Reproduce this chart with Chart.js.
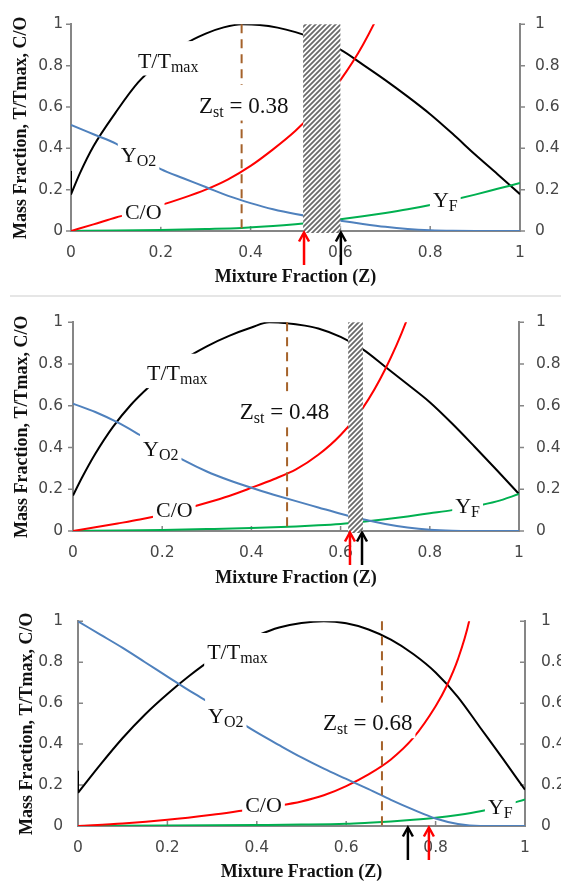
<!DOCTYPE html>
<html>
<head>
<meta charset="utf-8">
<script src="https://cdn.jsdelivr.net/npm/chart.js@4.4.1/dist/chart.umd.min.js"></script>
<style>
  html, body { margin: 0; padding: 0; background: #fff; }
  body { width: 561px; height: 885px; position: relative; overflow: hidden; }
  canvas { position: absolute; left: 0; }
  #sep { position: absolute; left: 10px; top: 295px; width: 551px; height: 2px; background: #e6e6e6; }
</style>
</head>
<body>
<canvas id="c1" width="561" height="294" style="top:0px"></canvas>
<div id="sep"></div>
<canvas id="c2" width="561" height="300" style="top:296px"></canvas>
<canvas id="c3" width="561" height="289" style="top:596px"></canvas>
<script>
// ---------- data: mixture fraction Z vs. normalised profiles ----------
const axisTicks = [0, 0.2, 0.4, 0.6, 0.8, 1];

// Case 1 (Zst = 0.38)
const zst1 = 0.38;
const zT1 = [0, 0.02, 0.05, 0.1, 0.15, 0.2, 0.25, 0.3, 0.34, 0.38, 0.42, 0.46, 0.5, 0.55, 0.6, 0.65, 0.7, 0.75, 0.8, 0.85, 0.9, 0.95, 1];
const T1  = [0.177, 0.28, 0.41, 0.575, 0.72, 0.82, 0.9, 0.955, 0.985, 1.0, 0.997, 0.984, 0.962, 0.925, 0.877, 0.805, 0.73, 0.65, 0.565, 0.47, 0.37, 0.275, 0.178];
const tEdge1 = [0.29, 0.177];
const zO1 = [0, 0.05, 0.1, 0.15, 0.2, 0.25, 0.3, 0.35, 0.4, 0.45, 0.5, 0.55, 0.6, 0.65, 0.7, 0.75, 0.8, 0.85, 0.9, 1];
const O1  = [0.513, 0.468, 0.423, 0.36, 0.299, 0.255, 0.213, 0.17, 0.135, 0.105, 0.082, 0.064, 0.05, 0.034, 0.02, 0.01, 0.004, 0.001, 0, 0];
const zC1 = [0, 0.05, 0.1, 0.15, 0.2, 0.25, 0.3, 0.35, 0.4, 0.45, 0.5, 0.55, 0.6, 0.65, 0.7, 0.75];
const C1  = [0, 0.032, 0.065, 0.095, 0.125, 0.16, 0.2, 0.25, 0.315, 0.395, 0.485, 0.595, 0.73, 0.9, 1.12, 1.4];
const zF1 = [0, 0.1, 0.2, 0.3, 0.38, 0.45, 0.5, 0.55, 0.6, 0.65, 0.7, 0.75, 0.8, 0.85, 0.9, 0.95, 1];
const F1  = [0, 0.002, 0.005, 0.01, 0.015, 0.024, 0.033, 0.044, 0.057, 0.071, 0.087, 0.105, 0.126, 0.15, 0.176, 0.204, 0.232];
const band1 = [0.517, 0.6];
const marks1 = [0.519, 0.601];          // red, black arrows

// Case 2 (Zst = 0.48)
const zst2 = 0.48;
const zT2 = [0, 0.02, 0.05, 0.09, 0.13, 0.17, 0.2, 0.24, 0.3, 0.35, 0.4, 0.44, 0.48, 0.52, 0.55, 0.6, 0.65, 0.7, 0.75, 0.8, 0.85, 0.9, 0.95, 1];
const T2  = [0.17, 0.255, 0.37, 0.5, 0.605, 0.69, 0.745, 0.81, 0.885, 0.935, 0.975, 1.0, 0.996, 0.984, 0.97, 0.93, 0.87, 0.787, 0.703, 0.617, 0.515, 0.405, 0.292, 0.177];
const zO2 = [0, 0.05, 0.1, 0.15, 0.2, 0.25, 0.3, 0.35, 0.4, 0.45, 0.5, 0.55, 0.6, 0.65, 0.7, 0.75, 0.8, 0.85, 0.9, 1];
const O2  = [0.61, 0.57, 0.52, 0.46, 0.397, 0.337, 0.285, 0.243, 0.207, 0.174, 0.143, 0.113, 0.083, 0.056, 0.034, 0.017, 0.006, 0.001, 0, 0];
const zC2 = [0, 0.05, 0.1, 0.15, 0.2, 0.25, 0.3, 0.35, 0.4, 0.45, 0.5, 0.55, 0.6, 0.65, 0.7, 0.75, 0.8];
const C2  = [0, 0.018, 0.036, 0.055, 0.078, 0.105, 0.135, 0.168, 0.207, 0.248, 0.295, 0.365, 0.46, 0.59, 0.775, 1.02, 1.35];
const zF2 = [0, 0.1, 0.2, 0.3, 0.4, 0.5, 0.55, 0.6, 0.65, 0.7, 0.75, 0.8, 0.85, 0.9, 0.95, 1];
const F2  = [0, 0.002, 0.005, 0.009, 0.014, 0.022, 0.027, 0.034, 0.044, 0.056, 0.07, 0.085, 0.1, 0.118, 0.142, 0.177];
const band2 = [0.617, 0.65];
const marks2 = [0.621, 0.648];

// Case 3 (Zst = 0.68)
const zst3 = 0.68;
const zT3 = [0, 0.05, 0.1, 0.15, 0.2, 0.25, 0.3, 0.35, 0.4, 0.45, 0.5, 0.55, 0.6, 0.65, 0.7, 0.75, 0.8, 0.85, 0.9, 0.95, 1];
const T3  = [0.162, 0.30, 0.43, 0.545, 0.645, 0.735, 0.815, 0.88, 0.93, 0.97, 0.992, 1.0, 0.99, 0.96, 0.91, 0.84, 0.75, 0.63, 0.48, 0.33, 0.177];
const tEdge3 = [0.27, 0.162];
const zO3 = [0, 0.05, 0.1, 0.15, 0.2, 0.25, 0.3, 0.35, 0.4, 0.45, 0.5, 0.55, 0.6, 0.65, 0.7, 0.75, 0.8, 0.85, 0.9, 1];
const O3  = [1.0, 0.935, 0.87, 0.8, 0.73, 0.66, 0.595, 0.525, 0.457, 0.395, 0.335, 0.28, 0.23, 0.18, 0.128, 0.08, 0.037, 0.01, 0, 0];
const zC3 = [0, 0.1, 0.2, 0.3, 0.37, 0.45, 0.5, 0.55, 0.6, 0.65, 0.7, 0.75, 0.8, 0.825, 0.85, 0.875, 0.9];
const C3  = [0, 0.012, 0.03, 0.055, 0.076, 0.1, 0.12, 0.15, 0.195, 0.252, 0.325, 0.43, 0.585, 0.685, 0.815, 1.0, 1.3];
const zF3 = [0, 0.2, 0.4, 0.5, 0.6, 0.65, 0.7, 0.75, 0.8, 0.85, 0.9, 0.95, 1];
const F3  = [0, 0.002, 0.005, 0.007, 0.011, 0.016, 0.022, 0.03, 0.04, 0.054, 0.072, 0.098, 0.13];
const marks3 = [0.738, 0.785];          // black, red arrows

// ---------- styling ----------
const BLACK = '#000000', RED = '#ff0000', BLUE = '#4f81bd', GREEN = '#00b050';
const BROWN = '#a5622a', AXIS = '#868686', TICKTXT = '#474747';
const SERIF = '"Liberation Serif", "Times New Roman", serif';
const tickFont = { family: '"DejaVu Sans", sans-serif', size: 15.5 };
const tickText = v => String(Math.round(v * 10) / 10);

const pts = (zs, vs) => zs.map((z, i) => ({ x: z, y: vs[i] }));
const line = (zs, vs, color, smooth = true) => ({
  data: pts(zs, vs), borderColor: color, borderWidth: 2, pointRadius: 0,
  fill: false, cubicInterpolationMode: smooth ? 'monotone' : 'default', tension: 0
});

function hatchPattern(ctx) {
  const n = 5;
  const c = document.createElement('canvas');
  c.width = n; c.height = n;
  const g = c.getContext('2d');
  g.fillStyle = '#fff'; g.fillRect(0, 0, n, n);
  g.strokeStyle = '#6a6a6a'; g.lineWidth = 1.8;
  g.beginPath();
  g.moveTo(0, n); g.lineTo(n, 0);
  g.moveTo(-1, 1); g.lineTo(1, -1);
  g.moveTo(n - 1, n + 1); g.lineTo(n + 1, n - 1);
  g.stroke();
  return ctx.createPattern(c, 'repeat');
}

function drawLabel(ctx, xs, ys, lab) {
  const main = lab.size || 22, sub = 16;
  let x = xs.getPixelForValue(lab.z);
  const y = ys.getPixelForValue(lab.v);
  let w = 0;
  for (const [t, s] of lab.parts) {
    ctx.font = (s ? sub : main) + 'px ' + SERIF;
    w += ctx.measureText(t).width;
  }
  ctx.fillStyle = '#fff';
  ctx.fillRect(x - 3, y - main * 1.2, w + 6, main * 1.2 + 8);
  ctx.fillStyle = '#111';
  ctx.textAlign = 'left';
  ctx.textBaseline = 'alphabetic';
  for (const [t, s] of lab.parts) {
    ctx.font = (s ? sub : main) + 'px ' + SERIF;
    ctx.fillText(t, x, y + (s ? 4 : 0));
    x += ctx.measureText(t).width;
  }
}

function overlay(p) {
  return {
    id: 'overlay' + p.id,
    beforeDatasetsDraw(chart) {
      const ctx = chart.ctx, a = chart.chartArea;
      const xs = chart.scales.x, ys = chart.scales.y;
      ctx.save();
      ctx.strokeStyle = AXIS; ctx.lineWidth = 1.5;
      ctx.beginPath();
      for (const t of axisTicks) {
        const px = xs.getPixelForValue(t);
        ctx.moveTo(px, a.bottom); ctx.lineTo(px, a.bottom - 5);
        const py = ys.getPixelForValue(t);
        if (p.inwardY) {
          ctx.moveTo(a.left, py); ctx.lineTo(a.left + 5, py);
          ctx.moveTo(a.right, py); ctx.lineTo(a.right - 5, py);
        } else {
          ctx.moveTo(a.left - 5, py); ctx.lineTo(a.left, py);
          ctx.moveTo(a.right, py); ctx.lineTo(a.right + 5, py);
        }
      }
      ctx.stroke();
      ctx.restore();
    },
    afterDatasetsDraw(chart) {
      const ctx = chart.ctx, a = chart.chartArea;
      const xs = chart.scales.x, ys = chart.scales.y;
      ctx.save();
      // hatched interval
      if (p.band) {
        const x0 = xs.getPixelForValue(p.band[0]), x1 = xs.getPixelForValue(p.band[1]);
        const y0 = ys.getPixelForValue(1), y1 = a.bottom + 2;
        ctx.fillStyle = hatchPattern(ctx);
        ctx.fillRect(x0, y0, x1 - x0, y1 - y0);
      }
      // stoichiometric mixture fraction
      const xz = xs.getPixelForValue(p.zst);
      ctx.strokeStyle = BROWN; ctx.lineWidth = 2; ctx.setLineDash([9, 6]);
      ctx.beginPath();
      ctx.moveTo(xz, ys.getPixelForValue(1));
      ctx.lineTo(xz, ys.getPixelForValue(0));
      ctx.stroke();
      ctx.setLineDash([]);
      // curve labels
      for (const lab of p.labels) drawLabel(ctx, xs, ys, lab);
      // arrows under the axis
      for (const ar of p.arrows) {
        const x = xs.getPixelForValue(ar.z);
        const tip = a.bottom + 1.5, tail = a.bottom + 34;
        ctx.strokeStyle = ar.color; ctx.lineWidth = 2.5;
        ctx.beginPath(); ctx.moveTo(x, tail); ctx.lineTo(x, tip + 1); ctx.stroke();
        ctx.beginPath();
        ctx.moveTo(x - 5, tip + 9); ctx.lineTo(x, tip); ctx.lineTo(x + 5, tip + 9);
        ctx.stroke();
      }
      ctx.restore();
    }
  };
}

const zstParts = z => [['Z', 0], ['st', 1], [' = ' + z.toFixed(2), 0]];

const panels = [
  {
    id: 'c1', height: 294, area: { left: 71, right: 520, top: 11, bottom: 231 },
    yTitlePad: 10.2, xTitlePad: 6.2, yPadL: 8, yPadR: 15, inwardY: false,
    zst: zst1, band: band1,
    series: [line(zO1, O1, BLUE), line(zC1, C1, RED), line(zF1, F1, GREEN), line(zT1, T1, BLACK), line([0, 0], tEdge1, BLACK, false)],
    arrows: [{ z: marks1[0], color: RED }, { z: marks1[1], color: BLACK }],
    labels: [
      { z: 0.149, v: 0.791, parts: [['T/T', 0], ['max', 1]] },
      { z: 0.285, v: 0.573, size: 23, parts: zstParts(zst1) },
      { z: 0.111, v: 0.332, parts: [['Y', 0], ['O2', 1]] },
      { z: 0.12, v: 0.059, parts: [['C/O', 0]] },
      { z: 0.806, v: 0.118, parts: [['Y', 0], ['F', 1]] }
    ]
  },
  {
    id: 'c2', height: 300, area: { left: 73, right: 519, top: 15, bottom: 235 },
    yTitlePad: 11.2, xTitlePad: 7.2, yPadL: 10, yPadR: 17, inwardY: false,
    zst: zst2, band: band2,
    series: [line(zO2, O2, BLUE), line(zC2, C2, RED), line(zF2, F2, GREEN), line(zT2, T2, BLACK)],
    arrows: [{ z: marks2[0], color: RED }, { z: marks2[1], color: BLACK }],
    labels: [
      { z: 0.166, v: 0.723, parts: [['T/T', 0], ['max', 1]] },
      { z: 0.374, v: 0.536, size: 23, parts: zstParts(zst2) },
      { z: 0.157, v: 0.359, parts: [['Y', 0], ['O2', 1]] },
      { z: 0.186, v: 0.068, parts: [['C/O', 0]] },
      { z: 0.857, v: 0.086, parts: [['Y', 0], ['F', 1]] }
    ]
  },
  {
    id: 'c3', height: 289, area: { left: 78, right: 525, top: 10, bottom: 230 },
    yTitlePad: 16.7, xTitlePad: 2.2, yPadL: 15, yPadR: 16, inwardY: true,
    zst: zst3, band: null,
    series: [line(zO3, O3, BLUE), line(zC3, C3, RED), line(zF3, F3, GREEN), line(zT3, T3, BLACK), line([0, 0], tEdge3, BLACK, false)],
    arrows: [{ z: marks3[0], color: BLACK }, { z: marks3[1], color: RED }],
    labels: [
      { z: 0.289, v: 0.814, parts: [['T/T', 0], ['max', 1]] },
      { z: 0.291, v: 0.505, parts: [['Y', 0], ['O2', 1]] },
      { z: 0.374, v: 0.068, parts: [['C/O', 0]] },
      { z: 0.548, v: 0.468, size: 23, parts: zstParts(zst3) },
      { z: 0.917, v: 0.059, parts: [['Y', 0], ['F', 1]] }
    ]
  }
];

for (const p of panels) {
  const yTicks = pad => ({ stepSize: 0.2, padding: pad, font: tickFont, color: TICKTXT, callback: tickText });
  new Chart(document.getElementById(p.id), {
    type: 'line',
    data: { datasets: p.series },
    options: {
      responsive: false,
      animation: false,
      layout: { padding: { top: p.area.top, left: 0, right: 0, bottom: 0 } },
      plugins: { legend: { display: false }, tooltip: { enabled: false } },
      scales: {
        x: {
          type: 'linear', min: 0, max: 1,
          ticks: { stepSize: 0.2, padding: 13, font: tickFont, color: TICKTXT, maxRotation: 0, callback: tickText },
          grid: { display: false, drawTicks: false },
          border: { display: true, color: AXIS, width: 2 },
          title: {
            display: true, text: 'Mixture Fraction (Z)', color: '#111',
            font: { family: SERIF, size: 18, weight: 'bold' },
            padding: { top: 0, bottom: p.xTitlePad }
          },
          afterFit: s => { s.height = p.height - p.area.bottom; }
        },
        y: {
          position: 'left', min: 0, max: 1,
          ticks: yTicks(p.yPadL),
          grid: { display: false, drawTicks: false },
          border: { display: true, color: AXIS, width: 2 },
          title: {
            display: true, text: 'Mass Fraction, T/Tmax, C/O', color: '#111',
            font: { family: SERIF, size: 18, weight: 'bold' },
            padding: { top: p.yTitlePad, bottom: 0 }
          },
          afterFit: s => { s.width = p.area.left; }
        },
        y2: {
          position: 'right', min: 0, max: 1,
          ticks: yTicks(p.yPadR),
          grid: { display: false, drawTicks: false },
          border: { display: true, color: AXIS, width: 2 },
          afterFit: s => { s.width = 561 - p.area.right; }
        }
      }
    },
    plugins: [overlay(p)]
  });
}
</script>
</body>
</html>
